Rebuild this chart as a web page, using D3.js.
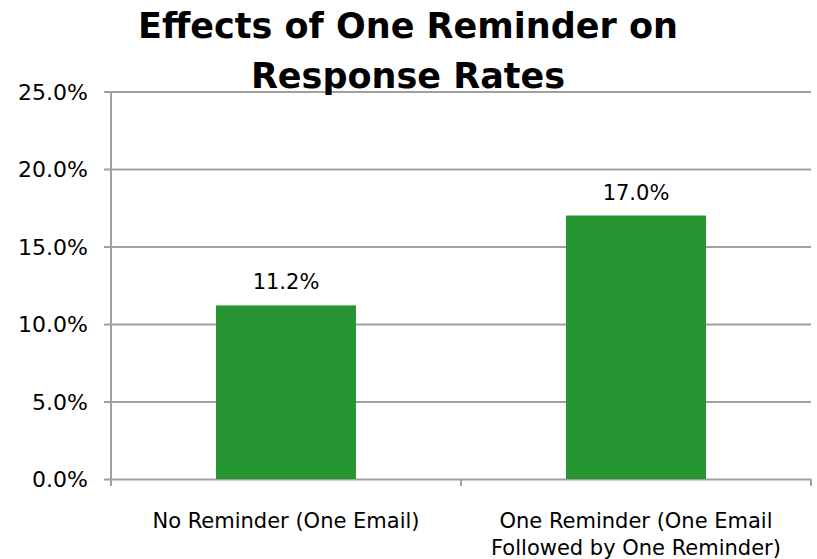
<!DOCTYPE html>
<html><head><meta charset="utf-8">
<script src="https://cdn.jsdelivr.net/npm/d3@7"></script>
<style>body{margin:0;background:#fff}svg{display:block}</style>
</head><body>
<svg id="c" width="817" height="559"></svg>
<script>
const titleLines = ["Effects of One Reminder on", "Response Rates"];
const categories = ["No Reminder (One Email)", "One Reminder (One Email Followed by One Reminder)"];
const categoryLines = [["No Reminder (One Email)"], ["One Reminder (One Email", "Followed by One Reminder)"]];
const values = [0.112, 0.170];
const yTicks = [0, 0.05, 0.10, 0.15, 0.20, 0.25];

const svg = d3.select("#c");
const font = "'DejaVu Sans', sans-serif";
const m = {left: 111, right: 811, top: 91.5, bottom: 479};
const x = d3.scaleBand().domain(categories).range([m.left, m.right]).paddingInner(0).paddingOuter(0);
const y = d3.scaleLinear().domain([0, 0.25]).range([m.bottom, m.top]);
const fmt = d3.format(".1%");
const grid = "#a0a0a0";

// gridlines + y axis
const yAxis = d3.axisLeft(y).tickValues(yTicks).tickFormat(fmt).tickSize(m.right - m.left + 7).tickPadding(16);
const gy = svg.append("g").attr("transform", `translate(${m.right},0)`).call(yAxis);
gy.select(".domain").remove();
gy.selectAll(".tick line").attr("stroke", grid).attr("stroke-width", 2);
gy.selectAll(".tick text").attr("font-family", font).attr("font-size", 22).attr("fill", "#000").attr("dy", "0.35em").attr("x", -(m.right - m.left) - 23);

// vertical axis line
svg.append("line").attr("x1", m.left).attr("x2", m.left).attr("y1", m.top).attr("y2", m.bottom + 7)
  .attr("stroke", grid).attr("stroke-width", 2);

// x axis ticks
const xb = [m.left, ...categories.map(c => x(c) + x.bandwidth())];
svg.selectAll(".xt").data(xb).enter().append("line")
  .attr("x1", d => d).attr("x2", d => d).attr("y1", m.bottom).attr("y2", m.bottom + 7)
  .attr("stroke", grid).attr("stroke-width", 2);

// bars
const bw = x.bandwidth() * 0.4;
svg.selectAll(".bar").data(values).enter().append("rect")
  .attr("x", (d, i) => x(categories[i]) + (x.bandwidth() - bw) / 2)
  .attr("width", bw)
  .attr("y", d => y(d))
  .attr("height", d => y(0) - y(d))
  .attr("fill", "#289533");

// value labels
svg.selectAll(".vl").data(values).enter().append("text")
  .attr("x", (d, i) => x(categories[i]) + x.bandwidth() / 2)
  .attr("y", d => y(d) - 16)
  .attr("text-anchor", "middle").attr("font-family", font).attr("font-size", 21)
  .text(d => fmt(d));

// category labels
categoryLines.forEach((lines, i) => {
  lines.forEach((t, j) => {
    svg.append("text")
      .attr("x", x(categories[i]) + x.bandwidth() / 2)
      .attr("y", 528 + j * 27)
      .attr("text-anchor", "middle").attr("font-family", font).attr("font-size", 21)
      .text(t);
  });
});

// title
titleLines.forEach((t, j) => {
  svg.append("text").attr("x", 408).attr("y", 38 + j * 50)
    .attr("text-anchor", "middle").attr("font-family", font).attr("font-weight", "bold").attr("font-size", 35)
    .text(t);
});
</script>
</body></html>
